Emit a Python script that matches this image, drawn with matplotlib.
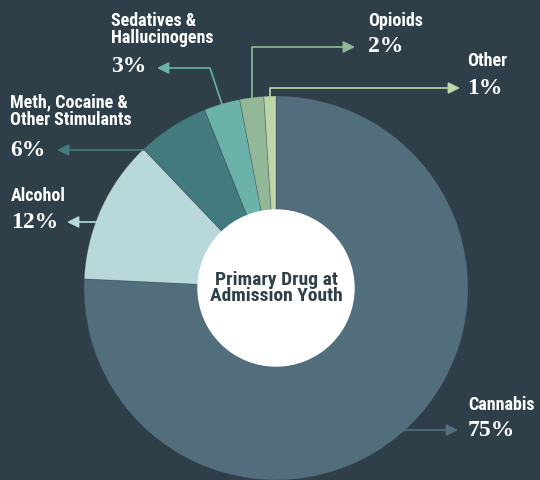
import numpy as np
import matplotlib
matplotlib.use("Agg")
import matplotlib.pyplot as plt

# Data
categories = ["Cannabis", "Alcohol", "Meth, Cocaine &\nOther Stimulants",
              "Sedatives &\nHallucinogens", "Opioids", "Other"]
values = [75, 12, 6, 3, 2, 1]
pct_labels = ["75%", "12%", "6%", "3%", "2%", "1%"]
colors = ["#526e7c", "#b8d8da", "#437a7e", "#6bb2aa", "#93b898", "#bcd6a8"]
center_title = "Primary Drug at\nAdmission Youth"

BG = "#2f3f4a"
W, H = 540, 480
SANS = ["Roboto Condensed", "DejaVu Sans"]
SERIF = ["Liberation Serif", "DejaVu Serif"]


def px(x, y):
    # pixel coords (top-left origin) -> data coords
    return x, H - y


# pie geometry (pixels)
CX, CY, R = 276, 288, 192
HOLE = 78

# label layout: text left x, name centre y, pct centre y, arrow tip x, leader kind
layout = [
    dict(tx=468, ny=405, py=430, tip=458, kind="hline_right"),
    dict(tx=11, ny=196, py=222, tip=67, kind="hline_left"),
    dict(tx=10, ny=111.5, py=150, tip=57, kind="hline_left"),
    dict(tx=111, ny=29.5, py=67, tip=157, kind="diag", elbow=(210, 68)),
    dict(tx=368, ny=21, py=47, tip=355, kind="vert"),
    dict(tx=467, ny=61, py=88, tip=460, kind="vert"),
]

fig = plt.figure(figsize=(W / 100, H / 100), dpi=100, facecolor=BG)
ax = fig.add_axes([0, 0, 1, 1])
ax.set_facecolor(BG)

wedges, _ = ax.pie(values, colors=colors, startangle=90, counterclock=False,
                   center=px(CX, CY), radius=R,
                   wedgeprops=dict(linewidth=0.6, edgecolor=(0.2, 0.25, 0.3, 0.35)))
ax.add_patch(plt.Circle(px(CX, CY), HOLE, color="white", zorder=3))
ax.text(*px(CX, 288), center_title, ha="center", va="center", fontsize=14,
        fontweight="bold", color="#2f3e48", family=SANS,
        linespacing=0.88, zorder=4)

ax.set_xlim(0, W)
ax.set_ylim(0, H)
ax.set_aspect("equal")
ax.axis("off")

for w, name, pct, col, lay in zip(wedges, categories, pct_labels, colors, layout):
    mid = np.deg2rad((w.theta1 + w.theta2) / 2)
    mx = CX + (R - 2) * np.cos(mid)
    my = CY - (R - 2) * np.sin(mid)
    py_ = lay["py"]
    if lay["kind"] == "hline_right":
        sx = CX + np.sqrt(R ** 2 - (py_ - CY) ** 2) - 4
        pts = [(sx, py_), (lay["tip"], py_)]
    elif lay["kind"] == "hline_left":
        sx = CX - np.sqrt(max(R ** 2 - (py_ - CY) ** 2, 0)) + 3
        pts = [(sx, py_), (lay["tip"], py_)]
    elif lay["kind"] == "diag":
        ex, ey = lay["elbow"]
        pts = [(mx, my), (ex, ey), (lay["tip"], ey)]
    else:
        pts = [(mx, my), (mx, py_), (lay["tip"], py_)]
    xs = [px(*p)[0] for p in pts]
    ys = [px(*p)[1] for p in pts]
    ax.plot(xs[:-1], ys[:-1], color=col, lw=1.2, solid_capstyle="butt", zorder=2)
    ax.annotate("", xy=(xs[-1], ys[-1]), xytext=(xs[-2], ys[-2]),
                arrowprops=dict(arrowstyle="-|>,head_length=0.7,head_width=0.35",
                                color=col, lw=1.2, shrinkA=0, shrinkB=0), zorder=2)
    ax.text(*px(lay["tx"], lay["ny"]), name, ha="left", va="center", fontsize=13,
            fontweight="bold", color="white", linespacing=0.98, family=SANS)
    ax.text(*px(lay["tx"], py_), pct, ha="left", va="center", fontsize=17,
            fontweight="bold", color="white", family=SERIF)

fig.savefig("out.png", dpi=100, facecolor=BG)
